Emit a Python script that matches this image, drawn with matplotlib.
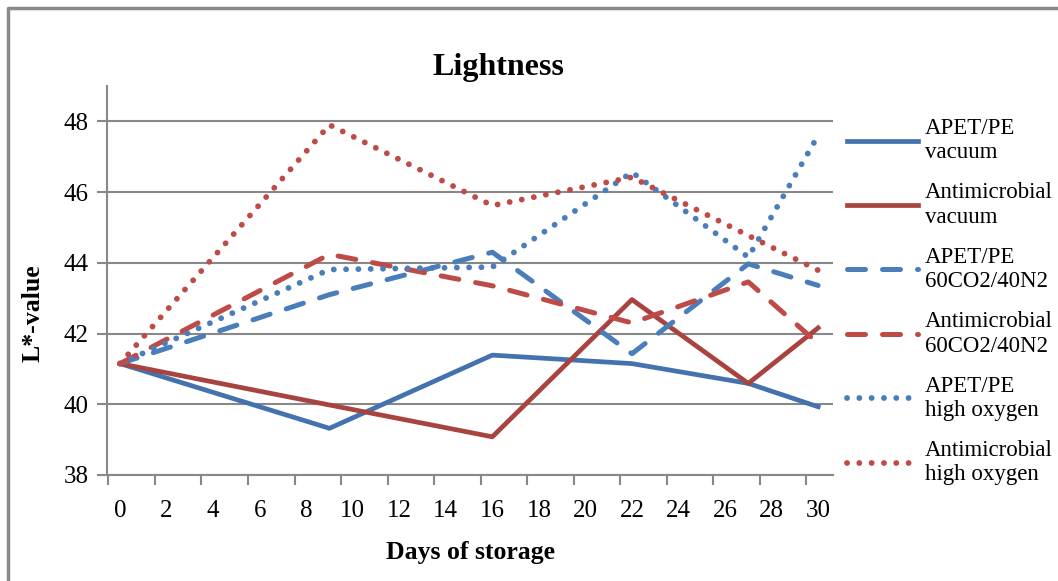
import matplotlib.pyplot as plt
from matplotlib.lines import Line2D

plt.rcParams['font.family'] = ['Liberation Serif', 'DejaVu Serif']

# 数据
days = [0, 9, 16, 22, 27, 30]
apet_vacuum = [41.15, 39.32, 41.39, 41.15, 40.59, 39.93]
anti_vacuum = [41.15, 39.98, 39.08, 42.96, 40.59, 42.16]
apet_mod = [41.15, 43.10, 44.30, 41.43, 43.97, 43.36]
anti_mod = [41.15, 44.24, 43.35, 42.30, 43.46, 41.72]
apet_high = [41.15, 43.81, 43.88, 46.56, 44.16, 47.60]
anti_high = [41.15, 47.90, 45.62, 46.42, 44.77, 43.79]

labels = ['APET/PE\nvacuum', 'Antimicrobial\nvacuum',
          'APET/PE\n60CO2/40N2', 'Antimicrobial\n60CO2/40N2',
          'APET/PE\nhigh oxygen', 'Antimicrobial\nhigh oxygen']
xticks = list(range(0, 31, 2))
yticks = [38, 40, 42, 44, 46, 48]

blue = '#4A7EBB'
red = '#BE4B48'
blue_dark = '#4472AE'
red_dark = '#A9433F'
grid_c = '#888888'

fig = plt.figure(figsize=(10.58, 5.81), dpi=100)
ax = fig.add_axes([107/1058, 1-475/581, (833-107)/1058, (475-86)/581])

dash = (0, (3.6, 3.4))
dot = (0, (0.01, 2.1))
ax.plot(days, apet_vacuum, color=blue_dark, lw=3.4, label=labels[0])
ax.plot(days, anti_vacuum, color=red_dark, lw=3.4, label=labels[1])
ax.plot(days, apet_mod, color=blue, lw=3.6, linestyle=dash, dash_capstyle='round', label=labels[2])
ax.plot(days, anti_mod, color=red, lw=3.6, linestyle=dash, dash_capstyle='round', label=labels[3])
ax.plot(days, apet_high, color=blue, lw=4.2, linestyle=dot, dash_capstyle='round', label=labels[4])
ax.plot(days, anti_high, color=red, lw=4.2, linestyle=dot, dash_capstyle='round', label=labels[5])

ax.set_xlim(-0.56, 30.64)
ax.set_ylim(38, 49)
ax.set_yticks(yticks)
ax.set_xticks(xticks)
ax.set_xticks([t - 0.5 for t in xticks], minor=True)
ax.tick_params(axis='x', which='major', length=0, labelsize=18, pad=18)
ax.tick_params(axis='x', which='minor', length=7, width=1.5, color=grid_c, direction='out')
ax.tick_params(axis='y', length=7, width=1.5, color=grid_c, labelsize=18, pad=6)
ax.yaxis.grid(True, color=grid_c, lw=1.5)
ax.set_axisbelow(True)
for s in ['top', 'right']:
    ax.spines[s].set_visible(False)
for s in ['left', 'bottom']:
    ax.spines[s].set_color(grid_c)
    ax.spines[s].set_linewidth(1.5)

fig.text(498/1058, 1-68/581, 'Lightness', ha='center', va='center', fontsize=23, fontweight='bold')
fig.text(470/1058, 1-552/581, 'Days of storage', ha='center', va='center', fontsize=18.5, fontweight='bold')
fig.text(33/1058, 1-313/581, 'L*-value', ha='center', va='center', rotation=90, fontsize=18.5, fontweight='bold')

ax.legend(loc='upper left', bbox_to_anchor=(847/1058, 1-118/581), bbox_transform=fig.transFigure,
          frameon=False, fontsize=16.5, handlelength=3.1, handletextpad=0.3, labelspacing=0.84,
          borderpad=0, borderaxespad=0)

# 外框
fig.add_artist(Line2D([8/1058, 8/1058, 1.0], [0.0, 1-8/581, 1-8/581], color='#8A8A8A', lw=2.5,
                      transform=fig.transFigure))

fig.savefig('out.png', dpi=100)
